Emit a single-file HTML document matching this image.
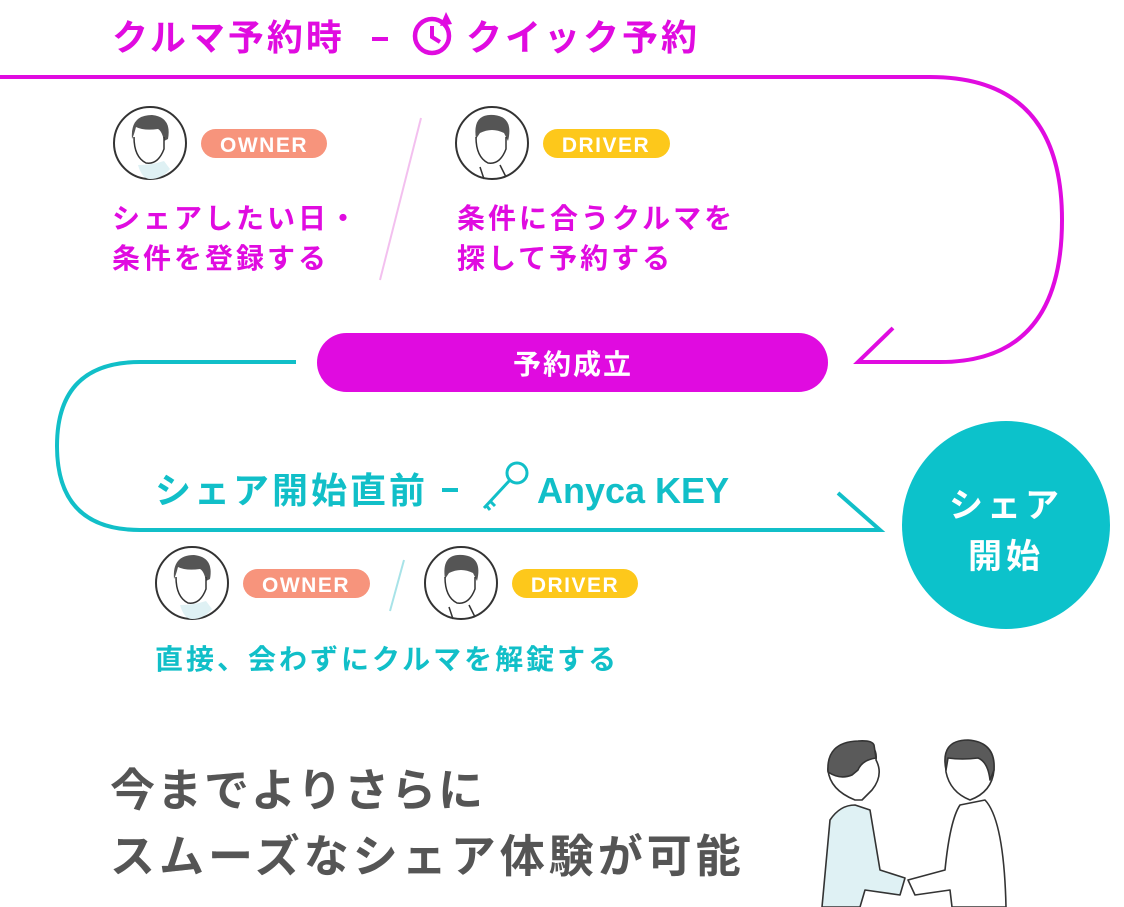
<!DOCTYPE html>
<html><head><meta charset="utf-8"><style>
html,body{margin:0;padding:0;background:#fff}
svg{display:block}
text{font-family:"Liberation Sans","Noto Sans CJK JP",sans-serif;font-weight:bold}
</style></head><body>
<svg width="1124" height="907" viewBox="0 0 1124 907" xmlns="http://www.w3.org/2000/svg">
<defs>
<g id="av">
  <circle cx="0" cy="0" r="36" fill="#fff" stroke="#333" stroke-width="2"/>
  <path d="M-12 22 Q-8 36 0 36 Q12 36 20 26 L14 18 Q2 22 -12 22Z" fill="#dff1f4"/>
  <path d="M-18 -4 Q-20 -28 2 -28 Q22 -26 18 -4 L14 -2 Q12 -12 8 -14 Q-6 -12 -14 -16 Q-16 -8 -18 -4Z" fill="#555"/>
  <path d="M-16 -6 Q-16 14 -4 20 Q8 22 14 6 L14 -6" fill="none" stroke="#333" stroke-width="1.5"/>
</g>
<g id="av2">
  <circle cx="0" cy="0" r="36" fill="#fff" stroke="#333" stroke-width="2"/>
  <path d="M-16 -4 Q-20 -30 2 -28 Q22 -26 16 -2 L12 -10 Q0 -16 -12 -10Z" fill="#555"/>
  <path d="M-16 -6 Q-16 14 -4 20 Q8 22 14 6 L14 -6" fill="none" stroke="#333" stroke-width="1.5"/>
  <path d="M-12 24 L-8 36 M8 22 L14 34" stroke="#333" stroke-width="1.5"/>
</g>
</defs>

<!-- magenta title -->
<text x="112" y="50" font-size="36" fill="#e00be0" letter-spacing="3">クルマ予約時</text>
<rect x="372" y="37" width="16" height="4" fill="#e00be0"/>
<circle cx="432" cy="36" r="17" fill="none" stroke="#e00be0" stroke-width="4.5"/>
<path d="M432 26 L432 37 L440 42" stroke="#e00be0" stroke-width="4" fill="none"/>
<path d="M446 12 L440 26 L452 24Z" fill="#e00be0"/>
<text x="466" y="50" font-size="36" fill="#e00be0" letter-spacing="3">クイック予約</text>

<!-- magenta loop -->
<path d="M0 77 L930 77 Q1062 77 1062 220 Q1062 362 940 362 L858 362 L893 328" fill="none" stroke="#e00be0" stroke-width="4"/>

<!-- top avatars -->
<use href="#av" x="150" y="143"/>
<rect x="201" y="129" width="126" height="29" rx="14.5" fill="#f7947c"/>
<text x="264" y="152" font-size="21" fill="#fff" text-anchor="middle" letter-spacing="1.5">OWNER</text>
<line x1="421" y1="118" x2="380" y2="280" stroke="#f3c0ef" stroke-width="2"/>
<use href="#av2" x="492" y="143"/>
<rect x="543" y="129" width="127" height="29" rx="14.5" fill="#fdc81b"/>
<text x="606" y="152" font-size="21" fill="#fff" text-anchor="middle" letter-spacing="1.5">DRIVER</text>

<text x="112" y="228" font-size="28" fill="#e00be0" letter-spacing="3">シェアしたい日・</text>
<text x="112" y="268" font-size="28" fill="#e00be0" letter-spacing="3">条件を登録する</text>
<text x="457" y="228" font-size="28" fill="#e00be0" letter-spacing="3">条件に合うクルマを</text>
<text x="457" y="268" font-size="28" fill="#e00be0" letter-spacing="3">探して予約する</text>

<!-- pill -->
<rect x="317" y="333" width="511" height="59" rx="29.5" fill="#e00be0"/>
<text x="573" y="374" font-size="28" fill="#fff" text-anchor="middle" letter-spacing="2">予約成立</text>

<!-- teal loop -->
<path d="M296 362 L140 362 Q57 362 57 446 Q57 530 140 530 L880 530 L838 493" fill="none" stroke="#11bfc8" stroke-width="4"/>

<!-- teal title -->
<text x="155" y="503" font-size="36" fill="#11bfc8" letter-spacing="3">シェア開始直前</text>
<rect x="442" y="488" width="16" height="4" fill="#11bfc8"/>
<g fill="none" stroke="#11bfc8" stroke-width="3">
  <circle cx="517" cy="473" r="10"/>
  <path d="M510 480 L484 508 M490 501 L495 506 M486 505 L490 510"/>
</g>
<text x="537" y="503" font-size="36" fill="#11bfc8">Anyca KEY</text>

<!-- big circle -->
<circle cx="1006" cy="525" r="104" fill="#0cc2cb"/>
<text x="1006" y="517" font-size="34" fill="#fff" text-anchor="middle" letter-spacing="4">シェア</text>
<text x="1006" y="568" font-size="34" fill="#fff" text-anchor="middle" letter-spacing="4">開始</text>

<!-- lower avatars -->
<use href="#av" x="192" y="583"/>
<rect x="243" y="569" width="127" height="29" rx="14.5" fill="#f7947c"/>
<text x="306" y="592" font-size="21" fill="#fff" text-anchor="middle" letter-spacing="1.5">OWNER</text>
<line x1="404" y1="560" x2="390" y2="611" stroke="#a8e3e8" stroke-width="2"/>
<use href="#av2" x="461" y="583"/>
<rect x="512" y="569" width="126" height="29" rx="14.5" fill="#fdc81b"/>
<text x="575" y="592" font-size="21" fill="#fff" text-anchor="middle" letter-spacing="1.5">DRIVER</text>

<text x="155" y="669" font-size="28" fill="#11bfc8" letter-spacing="3">直接、会わずにクルマを解錠する</text>

<!-- bottom text -->
<text x="110" y="806" font-size="45" fill="#555" letter-spacing="2">今までよりさらに</text>
<text x="110" y="872" font-size="45" fill="#555" letter-spacing="4">スムーズなシェア体験が可能</text>

<!-- handshake illustration -->
<g stroke="#333" stroke-width="1.6" stroke-linejoin="round">
  <path d="M822 907 L830 820 Q840 805 855 805 L870 810 L880 870 L905 878 L900 895 L865 890 L860 907Z" fill="#dff1f4"/>
  <path d="M855 800 Q830 790 828 770 Q830 742 860 742 Q878 744 876 760 Q884 775 872 790 L862 800Z" fill="#fff"/>
  <path d="M828 772 Q826 742 858 741 Q872 740 874 745 L876 758 Q862 760 858 770 L852 775 Q840 780 828 772Z" fill="#5a5a5a"/>
  <path d="M970 800 Q992 792 994 770 Q992 742 962 744 Q944 748 946 772 Q950 792 970 800Z" fill="#fff"/>
  <path d="M946 770 Q940 740 968 740 Q996 742 994 770 L990 780 Q988 762 978 758 Q962 760 948 758Z" fill="#5a5a5a"/>
  <path d="M960 805 L985 800 Q1004 820 1006 907 L952 907 L950 890 L915 895 L908 880 L945 870 Q950 820 960 805Z" fill="#fff"/>
</g>
</svg>
</body></html>
